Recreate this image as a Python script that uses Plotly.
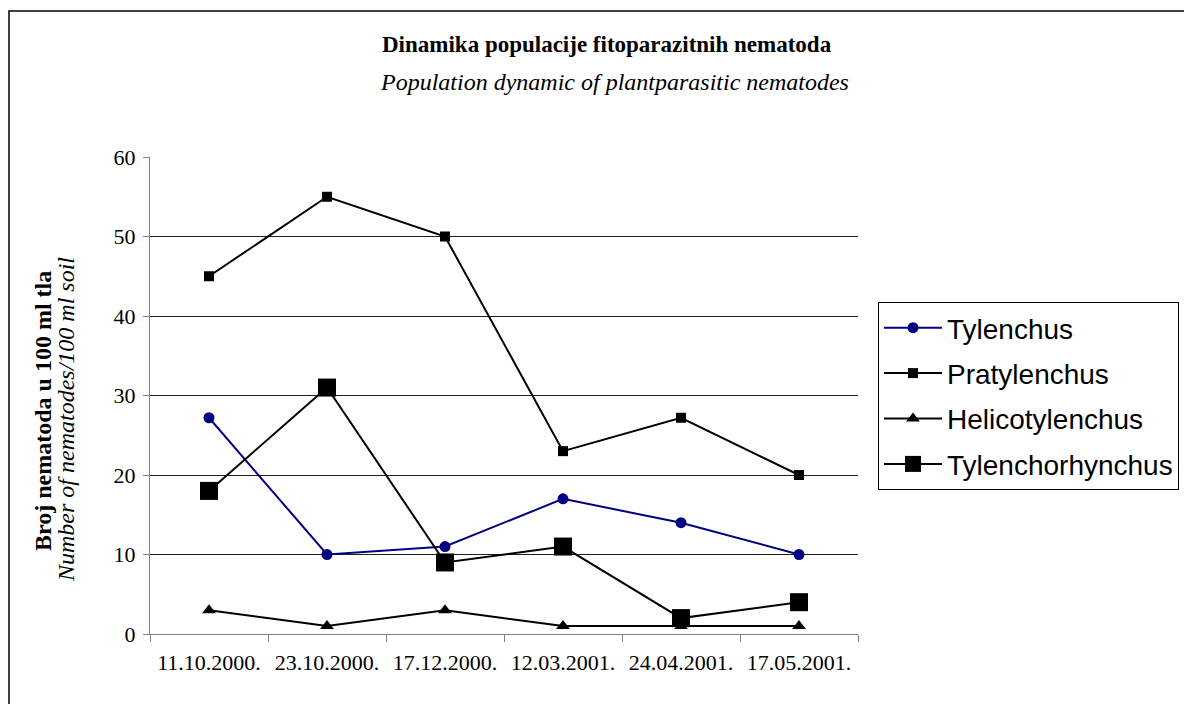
import plotly.graph_objects as go

dates = ["11.10.2000.", "23.10.2000.", "17.12.2000.", "12.03.2001.", "24.04.2001.", "17.05.2001."]
tylenchus = [27.2, 10, 11, 17, 14, 10]
pratylenchus = [45, 55, 50, 23, 27.2, 20]
helicotylenchus = [3, 1, 3, 1, 1, 1]
tylenchorhynchus = [18, 31, 9, 11, 2, 4]

series = [
    ("Tylenchus", tylenchus, "#000080", "circle", 11),
    ("Pratylenchus", pratylenchus, "#000000", "square", 10),
    ("Helicotylenchus", helicotylenchus, "#000000", "triangle-up", 12),
    ("Tylenchorhynchus", tylenchorhynchus, "#000000", "square", 18),
]

fig = go.Figure()
for i, (name, vals, col, sym, sz) in enumerate(series):
    fig.add_trace(go.Scatter(
        x=dates, y=vals, name=name, mode="lines+markers",
        line=dict(color=col, width=2),
        marker=dict(symbol=sym, size=sz, color=col, line=dict(width=0)),
        legendgroup="g%d" % i,
    ))

L, R, T, B = 150, 326, 157, 70
W, H = 1184, 704
pw, ph = W - L - R, H - T - B

def px(x):
    return (x - L) / pw

def py(y):
    return (H - B - y) / ph

serif = "Liberation Serif, Times New Roman, serif"

fig.update_layout(
    width=W, height=H,
    margin=dict(l=L, r=R, t=T, b=B, autoexpand=False),
    paper_bgcolor="white", plot_bgcolor="white",
    font=dict(family=serif, color="black", size=21),
    showlegend=True,
    legend=dict(
        x=px(878), y=py(302), xanchor="left", yanchor="top",
        bgcolor="white", bordercolor="black", borderwidth=1,
        font=dict(family="Liberation Sans, Arial, sans-serif", size=28, color="black"),
        tracegroupgap=6,
        itemwidth=58,
    ),
    xaxis=dict(
        type="category", range=[-0.5, 5.5],
        showgrid=False, showline=True, linecolor="#808080", linewidth=1,
        ticks="outside", ticklen=7, tickcolor="#808080", tickson="boundaries",
        tickangle=0, ticklabelstandoff=9,
        tickfont=dict(family=serif, size=22, color="black"),
        zeroline=False, fixedrange=True,
    ),
    yaxis=dict(
        range=[0, 60], tickvals=[0, 10, 20, 30, 40, 50, 60],
        showgrid=True, gridcolor="#202020", gridwidth=1,
        showline=True, linecolor="#808080", linewidth=1,
        ticks="outside", ticklen=6, tickcolor="#808080", ticklabelstandoff=3,
        tickfont=dict(family=serif, size=22, color="black"),
        zeroline=False, fixedrange=True,
    ),
    shapes=[dict(
        type="rect", xref="paper", yref="paper",
        x0=px(9), x1=px(1200), y0=py(720), y1=py(11),
        line=dict(color="black", width=1.5), fillcolor="rgba(0,0,0,0)", layer="below",
    )],
    annotations=[
        dict(text="<b>Dinamika populacije fitoparazitnih nematoda</b>", x=px(607), y=py(45),
             xref="paper", yref="paper", showarrow=False, xanchor="center", yanchor="middle",
             font=dict(family=serif, size=23, color="black")),
        dict(text="<i>Population dynamic of plantparasitic nematodes</i>", x=px(614), y=py(82),
             xref="paper", yref="paper", showarrow=False, xanchor="center", yanchor="middle",
             font=dict(family=serif, size=24, color="black")),
        dict(text="<b>Broj nematoda u 100 ml tla</b>", x=px(43), y=py(411),
             xref="paper", yref="paper", showarrow=False, xanchor="center", yanchor="middle",
             textangle=-90, font=dict(family=serif, size=24, color="black")),
        dict(text="<i>Number of nematodes/100 ml soil</i>", x=px(66), y=py(420),
             xref="paper", yref="paper", showarrow=False, xanchor="center", yanchor="middle",
             textangle=-90, font=dict(family=serif, size=24, color="black")),
    ],
)

fig.write_html("out.html", config={"displayModeBar": False},
               post_script="document.body.style.margin='0px';")
